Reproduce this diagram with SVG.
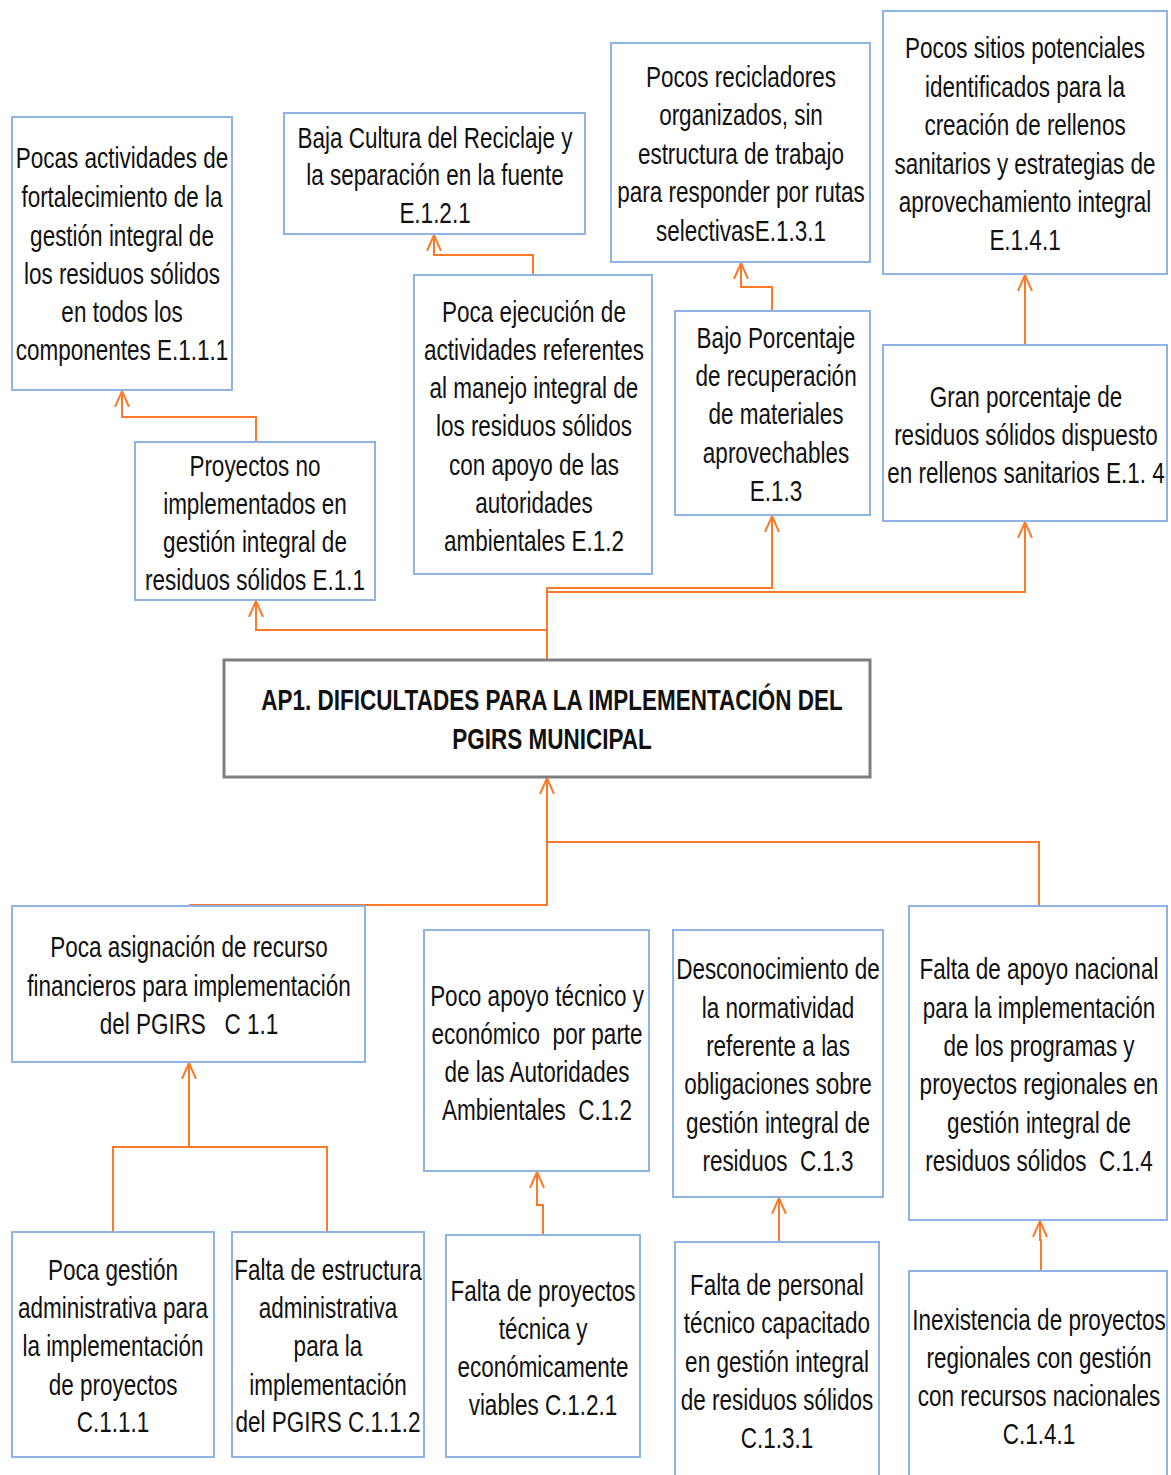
<svg xmlns="http://www.w3.org/2000/svg" width="1171" height="1475" viewBox="0 0 1171 1475">
<defs>
<style>
.b{fill:#fff;stroke:#8fb4e3;stroke-width:2}
.m{fill:#fff;stroke:#7f7f7f;stroke-width:3}
text{font-family:"Liberation Sans",Arial,sans-serif;font-size:30px;fill:#111;text-anchor:middle;white-space:pre}
.t{font-weight:bold;font-size:30px}
.c{fill:none;stroke:#fa7a2a;stroke-width:2}
</style>
<marker id="a" markerWidth="18" markerHeight="18" refX="16" refY="9" orient="auto" markerUnits="userSpaceOnUse"><path d="M0,2 L16,9 L0,16" fill="none" stroke="#fa7a2a" stroke-width="2"/></marker>
</defs>
<g id="connectors">
<path class="c" d="M547,660 V588 H772 V516" marker-end="url(#a)"/>
<path class="c" d="M547,592 H1025 V522" marker-end="url(#a)"/>
<path class="c" d="M547,630 H256 V601" marker-end="url(#a)"/>
<path class="c" d="M256,442 V417 H122 V391" marker-end="url(#a)"/>
<path class="c" d="M533,275 V255 H434 V235" marker-end="url(#a)"/>
<path class="c" d="M772,311 V287 H741 V263" marker-end="url(#a)"/>
<path class="c" d="M1025,345 V275" marker-end="url(#a)"/>
<path class="c" d="M190,906 V905 H547 V778" marker-end="url(#a)"/>
<path class="c" d="M547,842 H1039 V906"/>
<path class="c" d="M113,1232 V1147 H327 V1232"/>
<path class="c" d="M189,1147 V1063" marker-end="url(#a)"/>
<path class="c" d="M543,1235 V1205 H537 V1172" marker-end="url(#a)"/>
<path class="c" d="M779,1242 V1198" marker-end="url(#a)"/>
<path class="c" d="M1041,1271 V1240 H1040 V1221" marker-end="url(#a)"/>
</g>
<g id="E111"><rect class="b" x="12" y="117" width="220" height="273"/>
<text transform="translate(122 0) scale(0.75 1)"><tspan x="0" y="168">Pocas actividades de</tspan><tspan x="0" y="207">fortalecimiento de la</tspan><tspan x="0" y="246">gestión integral de</tspan><tspan x="0" y="284">los residuos sólidos</tspan><tspan x="0" y="322">en todos los</tspan><tspan x="0" y="360">componentes E.1.1.1</tspan></text></g>
<g id="E121"><rect class="b" x="284" y="113" width="301" height="121"/>
<text transform="translate(435 0) scale(0.75 1)"><tspan x="0" y="148">Baja Cultura del Reciclaje y</tspan><tspan x="0" y="185">la separación en la fuente</tspan><tspan x="0" y="223">E.1.2.1</tspan></text></g>
<g id="E131"><rect class="b" x="611" y="43" width="259" height="219"/>
<text transform="translate(741 0) scale(0.75 1)"><tspan x="0" y="87">Pocos recicladores</tspan><tspan x="0" y="125">organizados, sin</tspan><tspan x="0" y="164">estructura de trabajo</tspan><tspan x="0" y="202">para responder por rutas</tspan><tspan x="0" y="241">selectivasE.1.3.1</tspan></text></g>
<g id="E141"><rect class="b" x="883" y="11" width="284" height="263"/>
<text transform="translate(1025 0) scale(0.75 1)"><tspan x="0" y="58">Pocos sitios potenciales</tspan><tspan x="0" y="97">identificados para la</tspan><tspan x="0" y="135">creación de rellenos</tspan><tspan x="0" y="174">sanitarios y estrategias de</tspan><tspan x="0" y="212">aprovechamiento integral</tspan><tspan x="0" y="250">E.1.4.1</tspan></text></g>
<g id="E11"><rect class="b" x="135" y="442" width="240" height="158"/>
<text transform="translate(255 0) scale(0.75 1)"><tspan x="0" y="476">Proyectos no</tspan><tspan x="0" y="514">implementados en</tspan><tspan x="0" y="552">gestión integral de</tspan><tspan x="0" y="590">residuos sólidos E.1.1</tspan></text></g>
<g id="E12"><rect class="b" x="414" y="275" width="238" height="299"/>
<text transform="translate(534 0) scale(0.75 1)"><tspan x="0" y="322">Poca ejecución de</tspan><tspan x="0" y="360">actividades referentes</tspan><tspan x="0" y="398">al manejo integral de</tspan><tspan x="0" y="436">los residuos sólidos</tspan><tspan x="0" y="475">con apoyo de las</tspan><tspan x="0" y="513">autoridades</tspan><tspan x="0" y="551">ambientales E.1.2</tspan></text></g>
<g id="E13"><rect class="b" x="675" y="311" width="195" height="204"/>
<text transform="translate(776 0) scale(0.75 1)"><tspan x="0" y="348">Bajo Porcentaje</tspan><tspan x="0" y="386">de recuperación</tspan><tspan x="0" y="424">de materiales</tspan><tspan x="0" y="463">aprovechables</tspan><tspan x="0" y="501">E.1.3</tspan></text></g>
<g id="E14"><rect class="b" x="883" y="345" width="284" height="176"/>
<text transform="translate(1026 0) scale(0.75 1)"><tspan x="0" y="407">Gran porcentaje de</tspan><tspan x="0" y="445">residuos sólidos dispuesto</tspan><tspan x="0" y="483">en rellenos sanitarios E.1. 4</tspan></text></g>
<g id="AP1"><rect class="m" x="224" y="660" width="646" height="117"/>
<text class="t" transform="translate(552 0) scale(0.75 1)"><tspan x="0" y="710">AP1. DIFICULTADES PARA LA IMPLEMENTACIÓN DEL</tspan><tspan x="0" y="749">PGIRS MUNICIPAL</tspan></text></g>
<g id="C11"><rect class="b" x="12" y="906" width="353" height="156"/>
<text transform="translate(189 0) scale(0.75 1)"><tspan x="0" y="957">Poca asignación de recurso</tspan><tspan x="0" y="996">financieros para implementación</tspan><tspan x="0" y="1034">del PGIRS   C 1.1</tspan></text></g>
<g id="C12"><rect class="b" x="424" y="930" width="225" height="241"/>
<text transform="translate(537 0) scale(0.75 1)"><tspan x="0" y="1006">Poco apoyo técnico y</tspan><tspan x="0" y="1044">económico  por parte</tspan><tspan x="0" y="1082">de las Autoridades</tspan><tspan x="0" y="1120">Ambientales  C.1.2</tspan></text></g>
<g id="C13"><rect class="b" x="673" y="930" width="210" height="267"/>
<text transform="translate(778 0) scale(0.75 1)"><tspan x="0" y="979">Desconocimiento de</tspan><tspan x="0" y="1018">la normatividad</tspan><tspan x="0" y="1056">referente a las</tspan><tspan x="0" y="1094">obligaciones sobre</tspan><tspan x="0" y="1133">gestión integral de</tspan><tspan x="0" y="1171">residuos  C.1.3</tspan></text></g>
<g id="C14"><rect class="b" x="909" y="906" width="258" height="314"/>
<text transform="translate(1039 0) scale(0.75 1)"><tspan x="0" y="979">Falta de apoyo nacional</tspan><tspan x="0" y="1018">para la implementación</tspan><tspan x="0" y="1056">de los programas y</tspan><tspan x="0" y="1094">proyectos regionales en</tspan><tspan x="0" y="1133">gestión integral de</tspan><tspan x="0" y="1171">residuos sólidos  C.1.4</tspan></text></g>
<g id="C111"><rect class="b" x="12" y="1232" width="202" height="225"/>
<text transform="translate(113 0) scale(0.75 1)"><tspan x="0" y="1280">Poca gestión</tspan><tspan x="0" y="1318">administrativa para</tspan><tspan x="0" y="1356">la implementación</tspan><tspan x="0" y="1395">de proyectos</tspan><tspan x="0" y="1432">C.1.1.1</tspan></text></g>
<g id="C112"><rect class="b" x="232" y="1232" width="192" height="225"/>
<text transform="translate(328 0) scale(0.75 1)"><tspan x="0" y="1280">Falta de estructura</tspan><tspan x="0" y="1318">administrativa</tspan><tspan x="0" y="1356">para la</tspan><tspan x="0" y="1395">implementación</tspan><tspan x="0" y="1432">del PGIRS C.1.1.2</tspan></text></g>
<g id="C121"><rect class="b" x="446" y="1235" width="194" height="222"/>
<text transform="translate(543 0) scale(0.75 1)"><tspan x="0" y="1301">Falta de proyectos</tspan><tspan x="0" y="1339">técnica y</tspan><tspan x="0" y="1377">económicamente</tspan><tspan x="0" y="1415">viables C.1.2.1</tspan></text></g>
<g id="C131"><rect class="b" x="675" y="1242" width="204" height="240"/>
<text transform="translate(777 0) scale(0.75 1)"><tspan x="0" y="1295">Falta de personal</tspan><tspan x="0" y="1333">técnico capacitado</tspan><tspan x="0" y="1372">en gestión integral</tspan><tspan x="0" y="1410">de residuos sólidos</tspan><tspan x="0" y="1448">C.1.3.1</tspan></text></g>
<g id="C141"><rect class="b" x="909" y="1271" width="258" height="210"/>
<text transform="translate(1039 0) scale(0.75 1)"><tspan x="0" y="1330">Inexistencia de proyectos</tspan><tspan x="0" y="1368">regionales con gestión</tspan><tspan x="0" y="1406">con recursos nacionales</tspan><tspan x="0" y="1444">C.1.4.1</tspan></text></g>
</svg>
